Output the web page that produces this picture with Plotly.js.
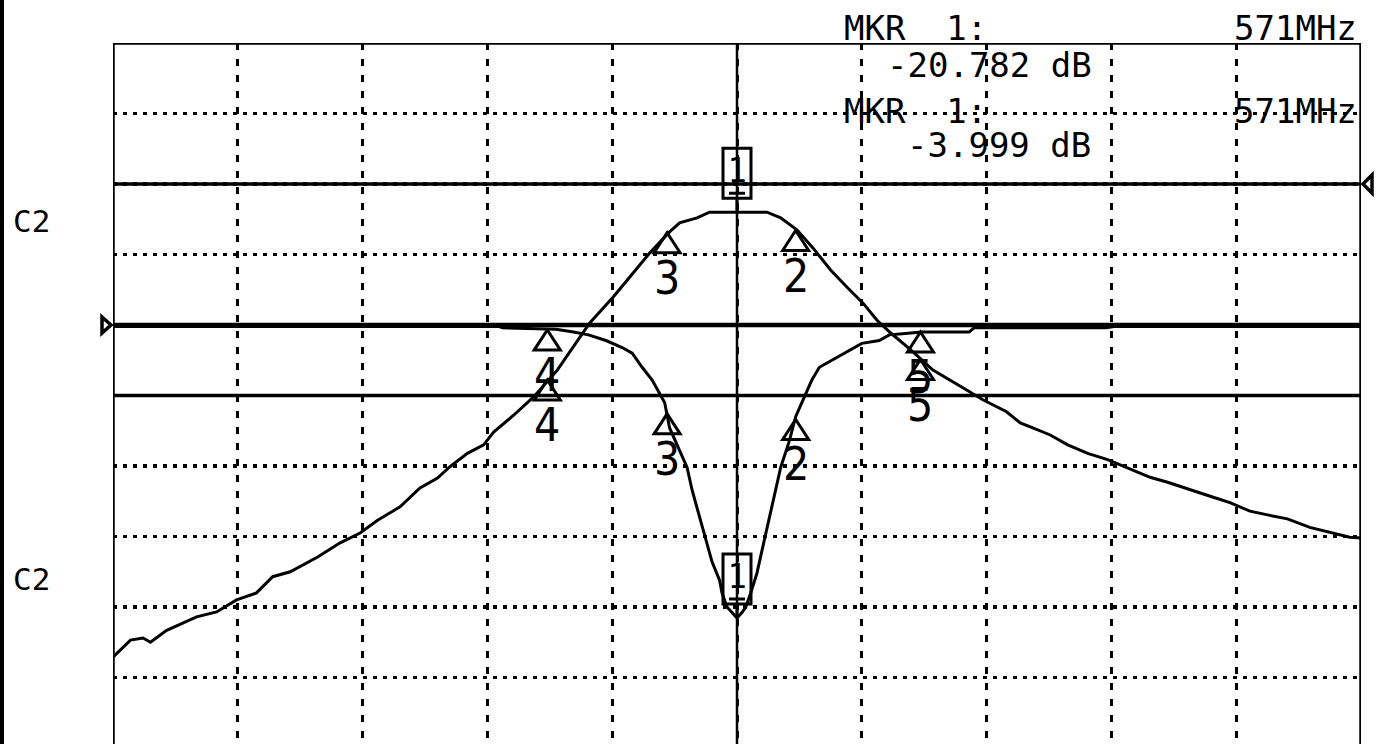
<!DOCTYPE html>
<html>
<head>
<meta charset="utf-8">
<script src="https://cdn.plot.ly/plotly-3.0.1.min.js"></script>
<style>
html,body{margin:0;padding:0;background:#fff;overflow:hidden;}
#chart{width:1381px;height:744px;}
</style>
</head>
<body>
<div id="chart"></div>
<script>
// Frequency axis: centre 571 MHz, 10 MHz/div, 521..621 MHz
const freqStart = 521;
const freqStop = 621;
const freqCenter = 571;

// Channel A (transmission, 10 dB/div, ref 0 dB)
const freqS21 = [521.0, 522.4, 523.4, 524.0, 525.3, 527.7, 529.3, 530.9, 532.5, 533.8,
  535.2, 537.4, 539.2, 540.8, 542.2, 544.0, 545.6, 547.0, 548.0, 549.4,
  550.7, 551.5, 553.1, 554.7, 556.6, 559.2, 561.1, 562.4, 564.0, 565.6,
  566.4, 567.8, 568.8, 571.0, 573.4, 574.5, 575.8, 577.1, 578.5, 579.8,
  581.1, 582.2, 583.3, 584.9, 586.7, 589.1, 590.7, 592.6, 593.7, 594.7,
  596.1, 597.5, 599.1, 600.7, 602.3, 604.1, 605.5, 607.3, 609.1, 610.5,
  612.1, 613.7, 615.1, 616.9, 618.5, 620.1, 621.0];
const s21 = [-67.1, -64.7, -64.4, -65.0, -63.3, -61.4, -60.7, -59.0, -58.0, -55.7,
  -55.0, -52.9, -50.9, -49.5, -47.7, -45.8, -43.1, -41.7, -40.1, -38.2,
  -37.0, -35.2, -32.8, -30.2, -26.4, -19.7, -16.0, -13.2, -9.8, -6.8,
  -5.5, -4.8, -4.0, -4.0, -4.0, -4.8, -6.5, -9.1, -12.2, -14.6,
  -16.9, -19.3, -21.1, -23.5, -26.4, -28.9, -30.6, -32.3, -33.9, -34.6,
  -35.6, -37.0, -38.2, -39.1, -40.3, -41.6, -42.3, -43.3, -44.4, -45.2,
  -46.4, -47.0, -47.5, -48.7, -49.4, -50.1, -50.2];

// Channel B (reflection, 5 dB/div, ref 0 dB)
const freqS11 = [521.0, 551.9, 552.2, 556.5, 557.9, 559.1, 560.5, 561.8, 562.6, 563.4,
  564.2, 564.8, 565.2, 565.6, 566.4, 567.0, 567.4, 568.0, 568.5, 569.0,
  569.6, 569.8, 570.2, 570.6, 571.0, 571.4, 571.7, 572.1, 572.6, 573.0,
  573.3, 573.7, 574.1, 574.5, 575.2, 575.7, 576.4, 577.0, 577.6, 578.6,
  579.7, 581.0, 582.4, 583.2, 584.5, 585.8, 589.6, 590.0, 600.6, 601.2, 621.0];
const s11 = [-0.1, -0.1, -0.2, -0.3, -0.5, -0.7, -1.1, -1.6, -2.0, -3.0,
  -3.9, -4.8, -5.5, -7.3, -8.9, -10.1, -11.7, -13.6, -15.2, -16.8,
  -18.1, -19.0, -20.0, -20.4, -20.78, -20.4, -20.0, -19.0, -17.6, -16.0,
  -14.8, -13.3, -11.5, -10.1, -8.2, -6.5, -5.1, -3.9, -3.0, -2.5,
  -1.9, -1.3, -1.1, -0.7, -0.6, -0.5, -0.5, -0.2, -0.2, -0.1, -0.1];

// Markers (coupled between channels)
const markerLabels = ['1', '2', '3', '4', '5'];
const markerFreq = [571.0, 575.7, 565.4, 555.8, 585.7];
const markerS21 = [-3.999, -6.6, -6.9, -27.8, -24.9];
const markerS11 = [-20.782, -6.7, -6.3, -0.35, -0.5];

// Readout texts
const readoutMkr = 'MKR  1:';
const readoutFreq = '571MHz';
const readoutS11 = '-20.782 dB';
const readoutS21 = '-3.999 dB';
const channelLabel = 'C2';

// ---- Layout geometry ----
const W = 1381, H = 744;
const mL = 113, mR = 20, mT = 43, mB = 0;
const plotW = W - mL - mR, plotH = H - mT - mB;
const divPx = 70.5;
// y ranges so that 10 dB/div (A) and 5 dB/div (B) fit the grid
const refA_px = 184 - mT, refB_px = 325 - mT;
const yA = [-(plotH - refA_px) / divPx * 10, refA_px / divPx * 10];
const yB = [-(plotH - refB_px) / divPx * 5, refB_px / divPx * 5];

const nb = s => s.replace(/ /g, '\u00a0');
const px2paperX = p => (p - mL) / plotW;
const px2paperY = p => (H - mB - p) / plotH;

const monoFont = {family: 'DejaVu Sans Mono, Liberation Mono, monospace', size: 34, color: '#000'};
const digitFont = {family: 'Liberation Sans Narrow, DejaVu Sans Condensed, Liberation Sans, sans-serif', size: 46, color: '#000'};

const traces = [
  {x: freqS21, y: s21, mode: 'lines', line: {color: '#000', width: 3}, xaxis: 'x', yaxis: 'y', hoverinfo: 'skip'},
  {x: freqS11, y: s11, mode: 'lines', line: {color: '#000', width: 3}, xaxis: 'x', yaxis: 'y2', hoverinfo: 'skip'}
];

const shapes = [];
const annotations = [];
const L = {color: '#000', width: 3.5};

// solid reference lines (channel A scale: 20,0,-20,-30 dB)
[20, 0, -20, -30].forEach(v => shapes.push({type: 'line', xref: 'x', yref: 'y', x0: freqStart, x1: freqStop, y0: v, y1: v,
  line: {color: '#000', width: v === -20 ? 4.5 : 3.5}}));
// frame sides and centre line
shapes.push({type: 'line', xref: 'x', yref: 'paper', x0: freqStart, x1: freqStart, y0: 0, y1: 1, line: L});
shapes.push({type: 'line', xref: 'x', yref: 'paper', x0: freqStop, x1: freqStop, y0: 0, y1: 1, line: L});
shapes.push({type: 'line', xref: 'x', yref: 'paper', x0: freqCenter, x1: freqCenter, y0: 0, y1: 1, line: {color: '#000', width: 2.5}});
// reference arrows (outside the plot area, so x in paper space)
shapes.push({type: 'path', xref: 'paper', yref: 'y', xsizemode: 'pixel', ysizemode: 'pixel', xanchor: 0, yanchor: -20,
  path: 'M -11,8 L -2,0 L -11,-8 Z', line: {color: '#000', width: 3.5}, fillcolor: '#fff'});
shapes.push({type: 'path', xref: 'paper', yref: 'y', xsizemode: 'pixel', ysizemode: 'pixel', xanchor: 1, yanchor: 0,
  path: 'M 11,9 L 2,0 L 11,-9 Z', line: {color: '#000', width: 3.5}, fillcolor: '#fff'});
// left screen edge bar
shapes.push({type: 'rect', xref: 'paper', yref: 'paper', x0: -mL / plotW, x1: (4 - mL) / plotW, y0: -0.1, y1: 1.2,
  line: {width: 0}, fillcolor: '#000'});

// markers on both channels
function addMarkers(vals, yref) {
  markerLabels.forEach((lab, i) => {
    const f = markerFreq[i], v = vals[i];
    if (lab === '1') {
      shapes.push({type: 'path', xref: 'x', yref: yref, xsizemode: 'pixel', ysizemode: 'pixel', xanchor: f, yanchor: v,
        path: 'M -14,14 L -14,64 L 14,64 L 14,14 Z M 0,14 L 0,0 M -8,19 L 8,19',
        line: {color: '#000', width: 3}, fillcolor: 'rgba(0,0,0,0)'});
      annotations.push({xref: 'x', yref: yref, x: f, y: v, yshift: 42, text: '1', showarrow: false,
        font: {family: digitFont.family, size: 34, color: '#000'}, xanchor: 'center', yanchor: 'middle'});
    } else {
      shapes.push({type: 'path', xref: 'x', yref: yref, xsizemode: 'pixel', ysizemode: 'pixel', xanchor: f, yanchor: v,
        path: 'M -13,-20 L 0,0 L 13,-20 Z', line: {color: '#000', width: 3}, fillcolor: 'rgba(0,0,0,0)'});
      annotations.push({xref: 'x', yref: yref, x: f, y: v, yshift: -45, text: lab, showarrow: false,
        font: digitFont, xanchor: 'center', yanchor: 'middle'});
    }
  });
}
addMarkers(markerS21, 'y');
addMarkers(markerS11, 'y2');

// readout texts
function txt(t, xp, yp, anchor, font) {
  annotations.push({xref: 'paper', yref: 'paper', x: px2paperX(xp), y: px2paperY(yp), text: nb(t), showarrow: false,
    xanchor: anchor, yanchor: 'middle', font: font || monoFont});
}
txt(readoutMkr, 842, 28, 'left');
txt(readoutFreq, 1359, 28, 'right');
txt(readoutS11, 885, 65, 'left');
txt(readoutMkr, 842, 111, 'left');
txt(readoutFreq, 1359, 111, 'right');
txt(readoutS21, 905, 145, 'left');
const c2Font = {family: 'DejaVu Sans Mono, monospace', size: 31, color: '#000'};
txt(channelLabel, 11, 221, 'left', c2Font);
txt(channelLabel, 11, 579, 'left', c2Font);

const layout = {
  width: W, height: H,
  margin: {l: mL, r: mR, t: mT, b: mB, pad: 0},
  paper_bgcolor: '#fff', plot_bgcolor: '#fff',
  showlegend: false,
  xaxis: {range: [freqStart, freqStop], tick0: freqStart, dtick: 10, showgrid: true, gridcolor: '#000', gridwidth: 3,
    griddash: '7px,9px', zeroline: false, showline: false, showticklabels: false, ticks: '', fixedrange: true},
  yaxis: {range: yA, tick0: 0, dtick: 10, showgrid: true, gridcolor: '#000', gridwidth: 3.5,
    griddash: '4px,6px', zeroline: false, showline: false, showticklabels: false, ticks: '', fixedrange: true},
  yaxis2: {range: yB, overlaying: 'y', side: 'right', showgrid: false, zeroline: false, showline: false,
    showticklabels: false, ticks: '', fixedrange: true},
  shapes: shapes,
  annotations: annotations
};

Plotly.newPlot('chart', traces, layout, {staticPlot: true, displayModeBar: false});
</script>
</body>
</html>
